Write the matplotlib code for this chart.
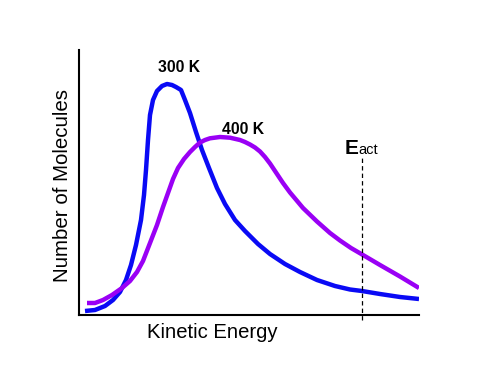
import matplotlib
matplotlib.use("Agg")
from matplotlib import pyplot as plt

# values (arbitrary units)
energy_300 = [6, 16, 26, 34, 41, 47, 52, 57, 62, 65, 67, 69, 71, 74, 78, 83, 88, 93, 97, 102,
              106, 111, 117, 123, 130, 138, 146, 156, 166, 179, 191, 206, 221, 238, 256, 271,
              283, 301, 321, 340]
count_300 = [4, 5, 9, 15, 23, 35, 50, 70, 95, 120, 145, 175, 200, 215, 224, 229, 231, 230, 228, 225,
             215, 202, 183, 165, 147, 127, 111, 95, 84, 71, 61, 51, 43, 35, 29, 25.5,
             24, 21, 18, 16]

energy_400 = [8, 16, 24, 33, 43, 51, 58, 64, 71, 78, 84, 89, 94, 99, 105, 111, 116, 121, 126, 131,
              141, 151, 161, 166, 171, 176, 181, 186, 191, 198, 204, 211, 224, 238, 251, 261, 272,
              284, 301, 321, 340]
count_400 = [12, 12, 15, 20, 27, 34, 43, 54, 72, 90, 108, 122, 136, 147, 156, 163, 168, 172.5, 175, 176.7,
             178, 177.3, 175, 173, 170.5, 167.5, 163.5, 158, 151.5, 141, 132, 122.5, 107, 93.5, 82, 74.5, 67,
             60, 50, 38.5, 27]

e_act = 283


def main():
    plt.rcParams['font.family'] = ['Liberation Sans', 'DejaVu Sans']
    fig = plt.figure(figsize=(4.91, 3.69), dpi=100)
    ax = fig.add_axes([79 / 491, 54 / 369, 340 / 491, 265 / 369])

    ax.plot(energy_300, count_300, color='#0a0af5', lw=3.2, solid_capstyle='butt', solid_joinstyle='round')
    ax.plot(energy_400, count_400, color='#9a00f5', lw=3.2, solid_capstyle='butt', solid_joinstyle='round')
    ax.plot([e_act, e_act], [-5, 157], color='black', lw=0.9, ls=(0, (3.5, 2.5)), clip_on=False)

    ax.text(100, 248, '300 K', fontsize=11.3, fontweight='bold', ha='center', va='center')
    ax.text(164, 186, '400 K', fontsize=11.3, fontweight='bold', ha='center', va='center')
    ax.text(266, 161, 'E', fontsize=15, fontweight='bold', ha='left', va='baseline')
    ax.text(279, 161, 'act', fontsize=10.5, ha='left', va='baseline')

    ax.set_xlim(0, 340)
    ax.set_ylim(0, 265)
    ax.set_xticks([])
    ax.set_yticks([])
    ax.spines['top'].set_visible(False)
    ax.spines['right'].set_visible(False)
    ax.spines['left'].set_linewidth(1.5)
    ax.spines['bottom'].set_linewidth(1.5)

    fig.text(212 / 491, 1 - 332 / 369, 'Kinetic Energy', fontsize=14.6, ha='center', va='center')
    fig.text(62 / 491, 1 - 186 / 369, 'Number of Molecules', fontsize=14.8, rotation=90,
             ha='center', va='center')

    fig.savefig('out.png', dpi=100)


main()
